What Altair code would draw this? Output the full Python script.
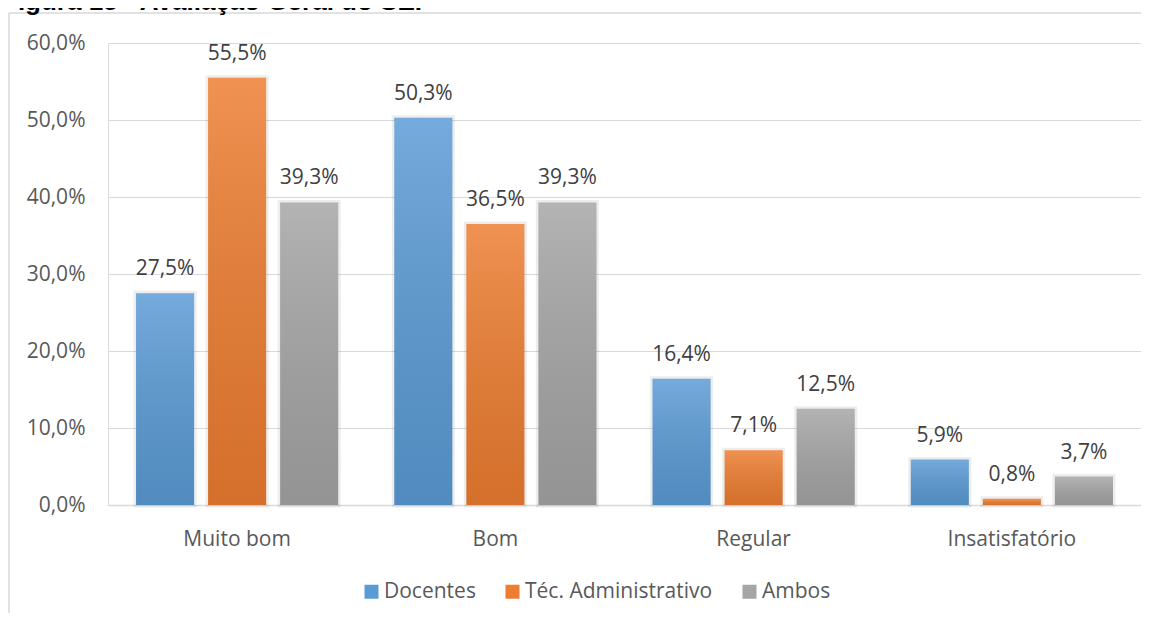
import altair as alt
import pandas as pd

TITLE = "Figura 15 - Avaliação Geral do SEI"
categories = ["Muito bom", "Bom", "Regular", "Insatisfatório"]
series = ["Docentes", "Téc. Administrativo", "Ambos"]
docentes = [27.5, 50.3, 16.4, 5.9]
tec_adm = [55.5, 36.5, 7.1, 0.8]
ambos = [39.3, 39.3, 12.5, 3.7]
colors = ["#5b9bd5", "#ed7d31", "#a5a5a5"]
y_ticks = [0, 10, 20, 30, 40, 50, 60]

rows = []
for s, vals in zip(series, [docentes, tec_adm, ambos]):
    for c, v in zip(categories, vals):
        rows.append({"categoria": c, "grupo": s, "valor": v,
                     "rotulo": f"{v:.1f}".replace(".", ",") + "%"})
df = pd.DataFrame(rows)

W, H = 1033, 462
FONT = "Open Sans"

x_enc = alt.X("categoria:N", sort=categories,
              scale=alt.Scale(paddingInner=0, paddingOuter=0),
              axis=alt.Axis(title=None, labelAngle=0, ticks=False,
                            domainColor="#d9d9d9", domainWidth=1.5,
                            labelPadding=23, labelFont=FONT, labelFontSize=21,
                            labelColor="#595959"))
xo_enc = alt.XOffset("grupo:N", sort=series,
                     scale=alt.Scale(domain=series, paddingInner=0.194, paddingOuter=0.389))
y_enc = alt.Y("valor:Q", scale=alt.Scale(domain=[0, 60], nice=False),
              axis=alt.Axis(title=None, values=y_ticks, grid=True, gridColor="#d9d9d9",
                            domain=False, ticks=False, labelPadding=23,
                            labelFont=FONT, labelFontSize=21, labelColor="#595959",
                            labelExpr="replace(format(datum.value, '.1f'), '.', ',') + '%'"))

base = alt.Chart(df).encode(x=x_enc, xOffset=xo_enc, y=y_enc)

shadow = base.mark_bar(fill="transparent", stroke="black", strokeOpacity=0.07, strokeWidth=5)

bars = base.mark_bar().encode(
    color=alt.Color("grupo:N", sort=series,
                    scale=alt.Scale(domain=series, range=colors),
                    legend=alt.Legend(title=None, orient="none", direction="horizontal",
                                      legendX=253, legendY=538, symbolType="square",
                                      symbolSize=196, symbolStrokeWidth=0,
                                      labelFont=FONT, labelFontSize=21, labelColor="#595959",
                                      labelOffset=2, columnPadding=26, padding=0,
                                      labelLimit=0))
)

grad = alt.Gradient(gradient="linear",
                    stops=[alt.GradientStop(color="rgba(255,255,255,0.16)", offset=0),
                           alt.GradientStop(color="rgba(0,0,0,0.10)", offset=1)],
                    x1=0, x2=0, y1=0, y2=1)
overlay = base.mark_bar(color=grad)

labels = base.mark_text(baseline="alphabetic", dy=-18, font=FONT, fontSize=21,
                        color="#404040").encode(text="rotulo:N")

frame_df = pd.DataFrame({"k": [0]})
frame_left = alt.Chart(frame_df).mark_rule(color="#d9d9d9", strokeWidth=1.5).encode(
    x=alt.value(-99), y=alt.value(-30), y2=alt.value(620))
frame_top = alt.Chart(frame_df).mark_rule(color="#d9d9d9", strokeWidth=1.5).encode(
    x=alt.value(-99), x2=alt.value(1100), y=alt.value(-30))

title_df = pd.DataFrame({"t": [TITLE]})
title = alt.Chart(title_df).mark_text(align="left", baseline="alphabetic",
                                      font="Liberation Sans", fontWeight="bold",
                                      fontSize=26, color="black").encode(
    text="t:N", x=alt.value(-106), y=alt.value(-33))

chart = alt.layer(frame_left, frame_top, title, shadow, bars, overlay, labels).properties(
    width=W, height=H,
    padding={"left": 100, "top": 35, "right": 0, "bottom": 108},
    autosize=alt.AutoSizeParams(type="none"),
).configure_view(stroke=None).configure(background="white")

chart.save("out.html", embed_options={"renderer": "svg", "actions": False})
